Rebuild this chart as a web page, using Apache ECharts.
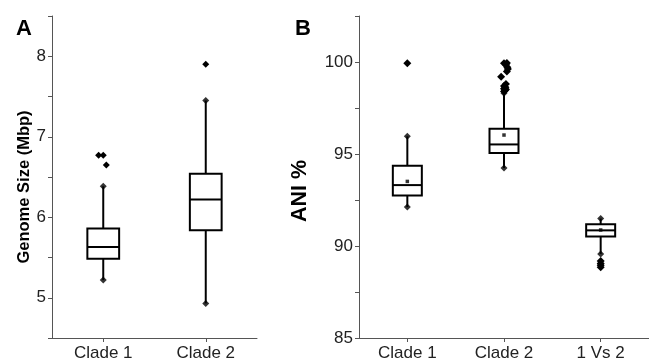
<!DOCTYPE html>
<html>
<head>
<meta charset="utf-8">
<script src="https://cdn.jsdelivr.net/npm/echarts@6/dist/echarts.min.js"></script>
<style>
html,body{margin:0;padding:0;background:#fff;}
#c{width:649px;height:363px;}
</style>
</head>
<body>
<div id="c"></div>
<script>
// ---- Data ----
const categoriesA = ['Clade 1', 'Clade 2'];
// [min(whisker), Q1, median, Q3, max(whisker)]
const boxA = [
  [5.22, 5.485, 5.63, 5.86, 6.385],
  [4.93, 5.84, 6.22, 6.54, 7.45]
];
const outlierCatA = [0, 0, 0, 1];
const outlierValA = [6.77, 6.77, 6.65, 7.9];
const outlierJitterA = [-0.045, 0, 0.03, 0];
const tickLabelsA = ['5', '6', '7', '8'];

const categoriesB = ['Clade 1', 'Clade 2', '1 Vs 2'];
const boxB = [
  [92.12, 92.75, 93.31, 94.36, 95.96],
  [94.24, 95.05, 95.52, 96.37, 98.3],
  [89.57, 90.51, 90.85, 91.18, 91.49]
];
const meansB = [93.51, 96.03, 90.87];
const outlierCatB = [0, 1, 1, 1, 1, 1, 1, 1, 1, 1, 1, 1, 1, 1, 1, 1, 2, 2, 2, 2];
const outlierValB = [99.93, 98.4, 98.45, 98.5, 98.55, 98.6, 98.65, 98.7, 98.8, 99.2, 99.48, 99.62, 99.72, 99.85, 99.93, 99.95, 89.18, 89.05, 88.95, 88.84];
const outlierJitterB = [0, 0, 0.01, 0.02, 0, 0.015, 0.01, 0, 0.02, -0.03, 0.03, 0.04, 0.035, 0.02, 0, 0.03, 0, 0, 0, 0];
const tickLabelsB = ['85', '90', '95', '100'];

// ---- Chart ----
const chart = echarts.init(document.getElementById('c'), null, {renderer: 'canvas'});
const FONT = 'Liberation Sans, Arial, sans-serif';
const axisColor = '#555';

function boxItems(box) {
  return box.map((b, i) => [i, b[0], b[1], b[2], b[3], b[4]]);
}
function renderBox(frac) {
  return function (params, api) {
    const x = api.value(0);
    const pMin = api.coord([x, api.value(1)]);
    const pQ1 = api.coord([x, api.value(2)]);
    const pMed = api.coord([x, api.value(3)]);
    const pQ3 = api.coord([x, api.value(4)]);
    const pMax = api.coord([x, api.value(5)]);
    const w = api.size([1, 0])[0] * frac;
    const cx = pMed[0];
    const st = {stroke: '#000', lineWidth: 2, fill: null};
    return {
      type: 'group',
      children: [
        {type: 'line', shape: {x1: cx, y1: pQ3[1], x2: cx, y2: pMax[1]}, style: st},
        {type: 'line', shape: {x1: cx, y1: pQ1[1], x2: cx, y2: pMin[1]}, style: st},
        {type: 'rect', shape: {x: cx - w / 2, y: pQ3[1], width: w, height: pQ1[1] - pQ3[1]}, style: {stroke: '#000', lineWidth: 2, fill: '#fff'}},
        {type: 'line', shape: {x1: cx - w / 2, y1: pMed[1], x2: cx + w / 2, y2: pMed[1]}, style: st}
      ]
    };
  };
}
// outlier diamonds, with small horizontal jitter (fraction of category width)
function renderOutlier(size) {
  return function (params, api) {
    const p = api.coord([api.value(0), api.value(1)]);
    const dx = api.size([1, 0])[0] * api.value(2);
    const h = size / 2;
    const cx = p[0] + dx, cy = p[1];
    return {
      type: 'polygon',
      shape: {points: [[cx, cy - h], [cx + h, cy], [cx, cy + h], [cx - h, cy]]},
      style: {fill: '#000'}
    };
  };
}
function whiskerEnds(box) {
  const out = [];
  box.forEach((b, i) => { out.push([i, b[0]]); out.push([i, b[4]]); });
  return out;
}
function outliers(cats, vals, jit) {
  return vals.map((v, i) => [cats[i], v, jit[i]]);
}

const yAxisCommon = {
  type: 'value',
  axisLine: {show: true, lineStyle: {color: axisColor, width: 1}},
  axisTick: {show: true, inside: false, length: 4, lineStyle: {color: axisColor}},
  splitLine: {show: false},
  axisLabel: {color: '#222', fontSize: 17, fontFamily: FONT, margin: 6}
};
const xAxisCommon = {
  type: 'category',
  boundaryGap: true,
  axisLine: {show: true, lineStyle: {color: axisColor, width: 1}},
  axisTick: {show: true, alignWithLabel: true, length: 4, lineStyle: {color: axisColor}},
  axisLabel: {color: '#222', fontSize: 17, fontFamily: FONT, margin: 7}
};

const option = {
  animation: false,
  backgroundColor: '#fff',
  title: [
    {text: 'A', left: 11, top: 13, textStyle: {fontSize: 22, fontWeight: 'bold', color: '#000', fontFamily: FONT}},
    {text: 'B', left: 290, top: 13, textStyle: {fontSize: 22, fontWeight: 'bold', color: '#000', fontFamily: FONT}}
  ],
  grid: [
    {left: 52, top: 16, width: 205, bottom: 25},
    {left: 359, top: 16, width: 293, bottom: 25}
  ],
  xAxis: [
    Object.assign({}, xAxisCommon, {gridIndex: 0, data: categoriesA}),
    Object.assign({}, xAxisCommon, {gridIndex: 1, data: categoriesB})
  ],
  yAxis: [
    Object.assign({}, yAxisCommon, {
      gridIndex: 0, min: 4.5, max: 8.5, interval: 0.5,
      axisLabel: Object.assign({}, yAxisCommon.axisLabel, {
        formatter: v => (tickLabelsA.indexOf(String(v)) >= 0 ? String(v) : '')
      }),
      name: 'Genome Size (Mbp)', nameLocation: 'middle', nameGap: 16,
      nameTextStyle: {fontSize: 16.5, fontWeight: 'bold', color: '#000', fontFamily: FONT, padding: [0, 20, 0, 0]}
    }),
    Object.assign({}, yAxisCommon, {
      gridIndex: 1, min: 85, max: 102.5, interval: 2.5,
      axisLabel: Object.assign({}, yAxisCommon.axisLabel, {
        formatter: v => (tickLabelsB.indexOf(String(v)) >= 0 ? String(v) : '')
      }),
      name: 'ANI %', nameLocation: 'middle', nameGap: 48,
      nameTextStyle: {fontSize: 21.5, fontWeight: 'bold', color: '#000', fontFamily: FONT, padding: [0, 28, 0, 0]}
    })
  ],
  series: [
    {type: 'custom', xAxisIndex: 0, yAxisIndex: 0, renderItem: renderBox(0.31), data: boxItems(boxA), encode: {x: 0, y: [1, 2, 3, 4, 5]}, z: 2},
    {type: 'scatter', xAxisIndex: 0, yAxisIndex: 0, symbol: 'diamond', symbolSize: 7, itemStyle: {color: '#000'}, data: whiskerEnds(boxA), z: 3},
    {type: 'custom', xAxisIndex: 0, yAxisIndex: 0, renderItem: renderOutlier(7), data: outliers(outlierCatA, outlierValA, outlierJitterA), encode: {x: 0, y: 1}, z: 3},
    {type: 'custom', xAxisIndex: 1, yAxisIndex: 1, renderItem: renderBox(0.30), data: boxItems(boxB), encode: {x: 0, y: [1, 2, 3, 4, 5]}, z: 2},
    {type: 'scatter', xAxisIndex: 1, yAxisIndex: 1, symbol: 'diamond', symbolSize: 7, itemStyle: {color: '#000'}, data: whiskerEnds(boxB), z: 3},
    {type: 'custom', xAxisIndex: 1, yAxisIndex: 1, renderItem: renderOutlier(8), data: outliers(outlierCatB, outlierValB, outlierJitterB), encode: {x: 0, y: 1}, z: 3},
    {type: 'scatter', xAxisIndex: 1, yAxisIndex: 1, symbol: 'rect', symbolSize: 3.5, itemStyle: {color: '#000'}, data: meansB.map((v, i) => [i, v]), z: 4}
  ]
};
chart.setOption(option);
</script>
</body>
</html>
